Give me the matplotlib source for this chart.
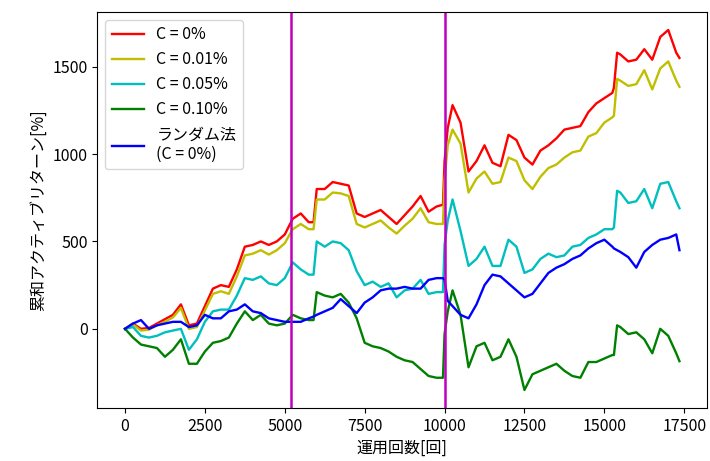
import matplotlib
matplotlib.use("Agg")
import matplotlib.pyplot as plt

plt.rcParams['font.family'] = ['Noto Sans CJK JP', 'DejaVu Sans']

# 運用回数 (sampled from the chart, extra samples around the jumps)
steps = ([0, 250, 500, 750, 1000, 1250, 1500, 1750, 2000, 2250, 2500, 2750,
          3000, 3250, 3500, 3750, 4000, 4250, 4500, 4750, 5000, 5250, 5500,
          5750, 5900, 6000, 6250, 6500, 6750, 7000, 7250, 7500, 7750, 8000,
          8250, 8500, 8750, 9000, 9250, 9500, 9750, 9950, 10000, 10100, 10250,
          10500, 10750, 11000, 11250, 11500, 11750, 12000, 12250, 12500, 12750,
          13000, 13250, 13500, 13750, 14000, 14250, 14500, 14750, 15000, 15250,
          15300, 15400, 15500, 15750, 16000, 16250, 16500, 16750, 17000, 17250,
          17350])

ret_c0 = [0, 30, 0, 5, 30, 55, 80, 140, 20, 30, 130, 230,
          250, 240, 340, 470, 480, 500, 480, 500, 540, 630, 660,
          610, 610, 800, 800, 840, 830, 820, 660, 640, 660, 680,
          640, 600, 650, 700, 760, 670, 700, 710, 960, 1150, 1280,
          1180, 900, 960, 1050, 950, 930, 1110, 1080, 980, 940,
          1020, 1050, 1090, 1140, 1150, 1160, 1240, 1290, 1320, 1350,
          1380, 1580, 1570, 1530, 1540, 1600, 1540, 1670, 1710, 1580,
          1550]
ret_c001 = [0, 25, -10, -5, 20, 40, 65, 120, 0, 10, 105, 200,
            215, 200, 300, 420, 430, 450, 425, 450, 490, 570, 600,
            570, 570, 740, 740, 780, 775, 760, 600, 580, 600, 620,
            580, 545, 590, 630, 690, 610, 600, 600, 850, 1050, 1140,
            1060, 780, 860, 900, 830, 840, 980, 960, 850, 800,
            870, 920, 940, 980, 1010, 1020, 1100, 1120, 1180, 1210,
            1220, 1430, 1420, 1390, 1400, 1480, 1370, 1490, 1530, 1420,
            1385]
ret_c005 = [0, 10, -40, -50, -40, -20, -10, 0, -120, -60, 40, 100,
            110, 110, 190, 290, 280, 300, 260, 250, 290, 380, 340,
            310, 310, 500, 470, 500, 490, 450, 330, 250, 270, 240,
            260, 180, 220, 230, 280, 200, 210, 210, 480, 620, 740,
            560, 360, 400, 470, 360, 360, 510, 470, 320, 340,
            400, 430, 410, 420, 470, 480, 520, 540, 570, 570,
            580, 790, 780, 720, 730, 800, 690, 830, 840, 730,
            690]
ret_c010 = [0, -50, -90, -100, -110, -160, -120, -60, -200, -200, -130, -80,
            -70, -50, 30, 100, 50, 80, 30, 20, 30, 80, 60,
            50, 50, 210, 190, 180, 200, 150, 60, -80, -100, -110,
            -130, -160, -180, -190, -230, -270, -280, -280, -30, 100, 220,
            80, -220, -100, -80, -180, -160, -60, -160, -350, -260,
            -240, -220, -200, -240, -270, -280, -190, -190, -170, -150,
            -150, 20, 10, -30, -20, -60, -140, 0, -40, -140,
            -185]
ret_random = [0, 30, 50, 0, 20, 30, 40, 40, 10, 20, 80, 60,
              60, 100, 110, 140, 100, 90, 60, 50, 40, 40, 40,
              60, 70, 80, 100, 120, 170, 130, 90, 150, 180, 220,
              230, 230, 240, 230, 230, 280, 290, 290, 280, 160, 130,
              80, 60, 140, 250, 310, 300, 260, 220, 180, 200,
              260, 320, 350, 370, 400, 420, 460, 490, 510, 470,
              460, 450, 440, 410, 350, 440, 480, 510, 520, 540,
              450]

split_points = [5180, 10000]

fig, ax = plt.subplots(figsize=(7.1, 4.61), dpi=100)
fig.subplots_adjust(left=0.137, right=0.996, bottom=0.115, top=0.974)

ax.plot(steps, ret_c0, color='r', lw=1.7, label='C = 0%')
ax.plot(steps, ret_c001, color='y', lw=1.7, label='C = 0.01%')
ax.plot(steps, ret_c005, color='c', lw=1.7, label='C = 0.05%')
ax.plot(steps, ret_c010, color='g', lw=1.7, label='C = 0.10%')
ax.plot(steps, ret_random, color='b', lw=1.7, label='ランダム法\n(C = 0%)')
for sp in split_points:
    ax.axvline(sp, color='m', lw=1.8)

ax.set_xticks([0, 2500, 5000, 7500, 10000, 12500, 15000, 17500])
ax.set_yticks([0, 500, 1000, 1500])
ax.tick_params(labelsize=11.5)
ax.set_xlabel('運用回数[回]', fontsize=11.5)
ax.set_ylabel('累和アクティブリターン[%]', fontsize=11.5)
ax.legend(loc='upper left', fontsize=11.5, handlelength=2.0)

fig.savefig('out.png', dpi=100)
